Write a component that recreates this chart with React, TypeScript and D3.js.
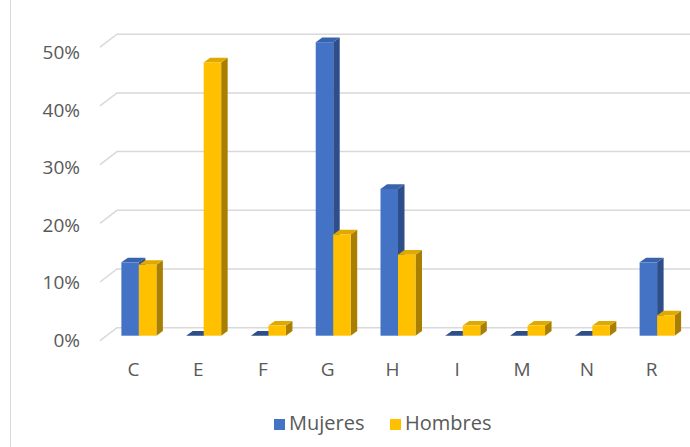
import * as d3 from 'd3';
import React, { useEffect, useRef } from 'react';

// Sectores (letra CNAE) y porcentaje por sexo
const categories = ['C', 'E', 'F', 'G', 'H', 'I', 'M', 'N', 'R'];
const mujeres = [0.125, 0, 0, 0.5, 0.25, 0, 0, 0, 0.125];
const hombres = [0.1207, 0.4655, 0.0172, 0.1724, 0.1379, 0.0172, 0.0172, 0.0172, 0.0345];
const yTicks = [0, 0.1, 0.2, 0.3, 0.4, 0.5];
const seriesNames = ['Mujeres', 'Hombres'];

const COLORS: Record<string, { front: string; side: string; top: string }> = {
    Mujeres: { front: '#4472C4', side: '#2E4E8A', top: '#3A63AE' },
    Hombres: { front: '#FFC000', side: '#A87F00', top: '#E0A900' },
};

const App: React.FC = () => {
    const svgRef = useRef<SVGSVGElement>(null);

    useEffect(() => {
        if (!svgRef.current) return;
        d3.select(svgRef.current).selectAll('*').remove();

        const width = 690;
        const height = 447;
        const font = '"Open Sans", "Liberation Sans", sans-serif';

        // 3D wall depth (front -> back)
        const depthX = 17;
        const depthY = -13;
        // bars sit part way into the depth
        const barShiftX = 6.5;
        const barShiftY = -5;
        const barDepthX = 6.5;
        const barDepthY = -4.7;

        const svg = d3.select(svgRef.current)
            .attr('width', width)
            .attr('height', height);

        svg.append('rect')
            .attr('width', width)
            .attr('height', height)
            .attr('fill', '#fff');

        // chart border (only left edge visible)
        svg.append('line')
            .attr('x1', 10.5).attr('x2', 10.5)
            .attr('y1', 0).attr('y2', height)
            .attr('stroke', '#d9d9d9')
            .attr('stroke-width', 1);

        const x = d3.scaleBand<string>()
            .domain(categories)
            .range([100, 683])
            .paddingInner(0);

        const y = d3.scaleLinear()
            .domain([0, 0.5])
            .range([340.7, 47.2]);

        const yLabel = d3.scaleLinear()
            .domain([0, 0.5])
            .range([340, 52]);

        const xSub = d3.scaleBand<string>()
            .domain(seriesNames)
            .range([0, 35]);

        // gridlines: slanted side wall segment + back wall line
        const grid = svg.append('g');
        yTicks.forEach((t) => {
            const yf = y(t);
            grid.append('path')
                .attr('d', `M100,${yf}L${100 + depthX},${yf + depthY}L${width},${yf + depthY}`)
                .attr('fill', 'none')
                .attr('stroke', '#d9d9d9')
                .attr('stroke-width', 1.5);
        });

        // y labels
        svg.append('g')
            .selectAll('text')
            .data(yTicks)
            .join('text')
            .attr('x', 80)
            .attr('y', (d) => yLabel(d))
            .attr('text-anchor', 'end')
            .attr('dominant-baseline', 'central')
            .attr('font-family', font)
            .attr('font-size', 19)
            .attr('fill', '#595959')
            .text((d) => `${Math.round(d * 100)}%`);

        // bars
        const bars = svg.append('g');
        const baseY = y(0) + barShiftY;
        categories.forEach((cat, i) => {
            const center = (x(cat) ?? 0) + x.bandwidth() / 2 + barShiftX;
            const left = center - 17.5;
            [mujeres[i], hombres[i]].forEach((v, s) => {
                const name = seriesNames[s];
                const c = COLORS[name];
                const bx = left + (xSub(name) ?? 0);
                const bw = xSub.bandwidth();
                const top = y(v) + barShiftY;

                // side face
                bars.append('path')
                    .attr('d', `M${bx + bw},${top}L${bx + bw + barDepthX},${top + barDepthY}L${bx + bw + barDepthX},${baseY + barDepthY}L${bx + bw},${baseY}Z`)
                    .attr('fill', c.side);
                // top face
                bars.append('path')
                    .attr('d', `M${bx},${top}L${bx + barDepthX},${top + barDepthY}L${bx + bw + barDepthX},${top + barDepthY}L${bx + bw},${top}Z`)
                    .attr('fill', v === 0 ? c.side : c.top);
                // front face
                bars.append('rect')
                    .attr('x', bx)
                    .attr('y', top)
                    .attr('width', bw)
                    .attr('height', Math.max(0, baseY - top))
                    .attr('fill', c.front);
            });
        });

        // x labels
        svg.append('g')
            .selectAll('text')
            .data(categories)
            .join('text')
            .attr('x', (d) => (x(d) ?? 0) + x.bandwidth() / 2 + 1)
            .attr('y', 376)
            .attr('text-anchor', 'middle')
            .attr('font-family', font)
            .attr('font-size', 19)
            .attr('fill', '#595959')
            .text((d) => d);

        // legend
        const legend = svg.append('g');
        const legendItems = [
            { name: 'Mujeres', sx: 274, tx: 289 },
            { name: 'Hombres', sx: 390, tx: 405 },
        ];
        legendItems.forEach((it) => {
            legend.append('rect')
                .attr('x', it.sx)
                .attr('y', 419)
                .attr('width', 11)
                .attr('height', 11)
                .attr('fill', COLORS[it.name].front);
            legend.append('text')
                .attr('x', it.tx)
                .attr('y', 430)
                .attr('font-family', font)
                .attr('font-size', 20)
                .attr('fill', '#595959')
                .text(it.name);
        });
    }, []);

    return (
        <svg
            ref={svgRef}
            style={{ position: 'absolute', left: 0, top: 0, display: 'block' }}
        ></svg>
    );
};

export default App;
